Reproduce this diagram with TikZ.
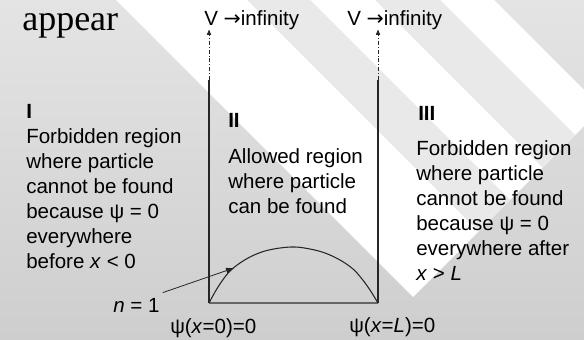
\documentclass[tikz,border=0pt]{standalone}
\usepackage{fontspec}
\setmainfont{Liberation Sans}
\newfontfamily\titlefont{Liberation Serif}
\newfontfamily\arrowfont{DejaVu Sans}
\usetikzlibrary{arrows.meta,positioning}
\definecolor{bgtop}{RGB}{228,228,228}
\definecolor{bgbottom}{RGB}{206,206,206}
\definecolor{stripe}{RGB}{233,233,233}
\tikzset{
  titletext/.style={anchor=base west, inner sep=0pt, font=\titlefont\fontsize{27}{30}\selectfont},
  regiontext/.style={anchor=base west, inner sep=0pt, align=left, font=\fontsize{15.4}{18.75}\selectfont},
  regionhead/.style={regiontext, font=\fontsize{15.4}{18.75}\selectfont\bfseries},
  wall/.style={draw=black!85, line width=0.8pt},
  floor/.style={draw=black!60, line width=1.5pt},
  limit/.style={draw=black!85, line width=0.6pt, dash pattern=on 3pt off 1.5pt on 0.6pt off 1.5pt, -{Triangle[length=4pt,width=3.2pt]}},
  pointer/.style={draw=black!85, line width=0.6pt, -{Triangle[length=6pt,width=4pt]}},
  wave/.style={draw=black!85, line width=0.8pt}
}

\begin{document}
\begin{tikzpicture}[x=0.75pt, y=-0.75pt]
  \useasboundingbox (0,0) rectangle (584,339);

  % slide background
  \shade[top color=bgtop, bottom color=bgbottom] (0,0) rectangle (584,339);
  \begin{scope}
    \clip (116,0) -- (494,0) -- (584,90) -- (584,126) -- (413,297) -- cycle;
    \fill[white] (0,0) rectangle (584,339);
    \fill[stripe] (247,0) -- (310,0) -- (650,340) -- (587,340) -- cycle;
    \fill[stripe] (375,0) -- (440,0) -- (780,340) -- (715,340) -- cycle;
  \end{scope}

  \node[titletext] (title) at (22,30) {appear};

  \node[regiontext] (limitL) at (204,25) {V {\arrowfont →}infinity};
  \node[regiontext] (limitR) at (347,25) {V {\arrowfont →}infinity};

  % multi-line nodes sit on the baseline of their last line
  \node[regiontext] (regionI) at (26,268) {\textbf{I}\\Forbidden region\\where particle\\cannot be found\\because ψ = 0\\everywhere\\before \textit{x} < 0};

  \node[regionhead] (headII) at (228,127) {II};
  \node[regiontext] (regionII) at (228,213) {Allowed region\\where particle\\can be found};

  \node[regionhead] (headIII) at (418,120) {III};
  \node[regiontext] (regionIII) at (416,280) {Forbidden region\\where particle\\cannot be found\\because ψ = 0\\everywhere after\\\textit{x} > \textit{L}};

  \node[regiontext] (quantum) at (113,312) {\textit{n} = 1};
  \node[regiontext] (edgeL) at (170,333) {ψ(\textit{x}=0)=0};
  \node[regiontext] (edgeR) at (349,332) {ψ(\textit{x}=\textit{L})=0};

  % infinite walls
  \coordinate (wallLtop) at (209,80);
  \coordinate (wallLbot) at (209,303);
  \coordinate (wallRtop) at (378,80);
  \coordinate (wallRbot) at (378,303);
  \coordinate (hit) at (234,268);

  \draw[limit] (wallLtop) -- (wallLtop |- limitL.south);
  \draw[limit] (wallRtop) -- (wallRtop |- limitR.south);
  \draw[wall] (wallLtop) -- (wallLbot);
  \draw[wall] (wallRtop) -- (wallRbot);
  \draw[floor] (wallLbot) -- (wallRbot);

  % ground state
  \draw[wave] plot[smooth, tension=0.6] coordinates {(209,303) (215,292) (222,281) (230,271) (240,263) (252,256) (265,251) (280,248) (295,247) (310,249) (325,253) (340,260) (353,269) (362,279) (370,290) (378,303)};
  \draw[pointer] ([shift={(3,-5)}]quantum.north east) -- (hit);
\end{tikzpicture}
\end{document}
